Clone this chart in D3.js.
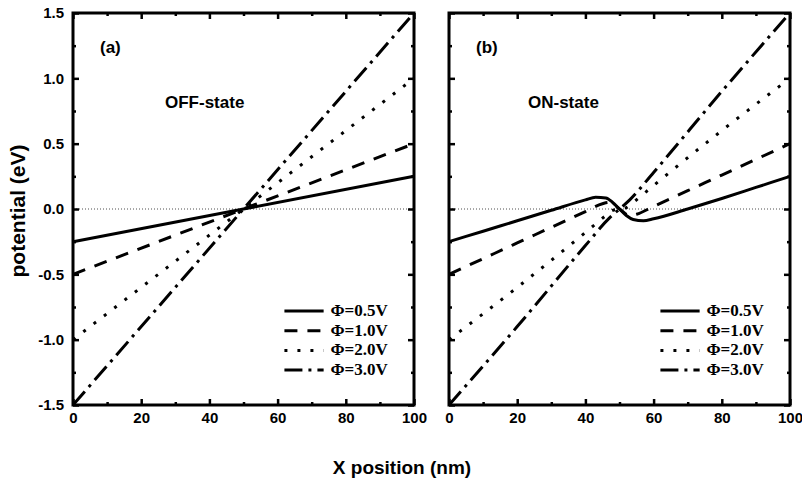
<!DOCTYPE html>
<html>
<head>
<meta charset="utf-8">
<script src="https://cdn.jsdelivr.net/npm/d3@7"></script>
<style>
  body { margin: 0; background: #fff; }
  svg { display: block; }
  .tick text { font-family: Arial, "Liberation Sans", sans-serif; font-weight: bold; font-size: 15px; fill: #000; }
</style>
</head>
<body>
<svg id="grafico" width="802" height="489"></svg>
<script>
// ticks y etiquetas
var xTicks = [0, 20, 40, 60, 80, 100];
var xMinor = [10, 30, 50, 70, 90];
var yTicks = [-1.5, -1.0, -0.5, 0.0, 0.5, 1.0, 1.5];
var yMinor = [-1.25, -0.75, -0.25, 0.25, 0.75, 1.25];
var leyenda = ["\u03A6=0.5V", "\u03A6=1.0V", "\u03A6=2.0V", "\u03A6=3.0V"];

// (a) OFF-state: rectas que cruzan en el centro
var offX = [0, 50, 100];
var off05 = [-0.25, 0, 0.25];
var off10 = [-0.5, 0, 0.5];
var off20 = [-1.0, 0, 1.0];
var off30 = [-1.5, 0, 1.5];

// (b) ON-state: con la ondulacion en el centro
var on05X = [0, 10, 20, 30, 40, 43, 46, 48, 50, 52, 54, 57, 60, 70, 80, 90, 100];
var on05 = [-0.25, -0.17, -0.09, -0.01, 0.07, 0.09, 0.085, 0.05, 0.0, -0.05, -0.08, -0.09, -0.075, 0.0, 0.08, 0.165, 0.25];
var on10X = [0, 10, 20, 30, 40, 45, 47, 50, 53, 55, 60, 70, 80, 90, 100];
var on10 = [-0.5, -0.38, -0.26, -0.14, -0.02, 0.04, 0.05, 0.0, -0.05, -0.04, 0.02, 0.14, 0.26, 0.38, 0.5];
var on20X = [0, 20, 40, 46, 48, 50, 52, 54, 60, 80, 100];
var on20 = [-1.0, -0.6, -0.18, -0.05, -0.01, 0.0, 0.01, 0.05, 0.18, 0.6, 1.0];
var on30X = [0, 20, 40, 47, 50, 53, 60, 80, 100];
var on30 = [-1.5, -0.9, -0.28, -0.07, 0.0, 0.07, 0.28, 0.9, 1.5];

var estilos = [
  { w: 3, dash: null },
  { w: 3, dash: "13,10" },
  { w: 3, dash: "3,10" },
  { w: 3, dash: "18,6,3,6" }
];

var svg = d3.select("#grafico");
var yArriba = 13, yAbajo = 405;
var escalaY = d3.scaleLinear().domain([-1.5, 1.5]).range([yAbajo, yArriba]);

var paneles = [
  { left: 73, right: 414, etiqueta: "(a)", estado: "OFF-state", ejeY: true,
    series: [[offX, off05], [offX, off10], [offX, off20], [offX, off30]], curva: d3.curveLinear },
  { left: 449, right: 790, etiqueta: "(b)", estado: "ON-state", ejeY: false,
    series: [[on05X, on05], [on10X, on10], [on20X, on20], [on30X, on30]], curva: d3.curveMonotoneX }
];

paneles.forEach(function (p) {
  var escalaX = d3.scaleLinear().domain([0, 100]).range([p.left, p.right]);
  var g = svg.append("g");

  // linea punteada del cero
  g.append("line")
    .attr("x1", escalaX(0)).attr("x2", escalaX(100))
    .attr("y1", escalaY(0)).attr("y2", escalaY(0))
    .attr("stroke", "#222").attr("stroke-width", 0.8)
    .attr("stroke-dasharray", "1,2");

  // series
  var linea = d3.line().curve(p.curva)
    .x(function (d) { return escalaX(d[0]); })
    .y(function (d) { return escalaY(d[1]); });
  p.series.forEach(function (s, i) {
    var pts = s[0].map(function (x, j) { return [x, s[1][j]]; });
    g.append("path")
      .attr("d", linea(pts))
      .attr("fill", "none")
      .attr("stroke", "#000")
      .attr("stroke-width", estilos[i].w)
      .attr("stroke-dasharray", estilos[i].dash);
  });

  // ejes con ticks hacia adentro
  function eje(gen, tx, ty, vals, size, labels) {
    var a = gen.tickValues(vals).tickSize(-size).tickPadding(7);
    if (!labels) a.tickFormat("");
    var e = g.append("g").attr("transform", "translate(" + tx + "," + ty + ")").call(a);
    e.select(".domain").remove();
    e.selectAll(".tick line").attr("stroke", "#000").attr("stroke-width", 2.5);
    return e;
  }
  var fmtY = function (d) { return d3.format(".1f")(d).replace("\u2212", "-"); };
  eje(d3.axisBottom(escalaX), 0, yAbajo, xTicks, 6, true);
  eje(d3.axisBottom(escalaX), 0, yAbajo, xMinor, 3, false);
  eje(d3.axisTop(escalaX), 0, yArriba, xTicks, 6, false);
  eje(d3.axisTop(escalaX), 0, yArriba, xMinor, 3, false);
  if (p.ejeY) {
    var ey = eje(d3.axisLeft(escalaY).tickFormat(fmtY), p.left, 0, yTicks, 6, true);
    ey.selectAll(".tick text").attr("x", -9);
  } else {
    eje(d3.axisLeft(escalaY), p.left, 0, yTicks, 6, false);
  }
  eje(d3.axisLeft(escalaY), p.left, 0, yMinor, 3, false);
  eje(d3.axisRight(escalaY), p.right, 0, yTicks, 6, false);
  eje(d3.axisRight(escalaY), p.right, 0, yMinor, 3, false);

  // marco
  g.append("rect")
    .attr("x", p.left).attr("y", yArriba)
    .attr("width", p.right - p.left).attr("height", yAbajo - yArriba)
    .attr("fill", "none").attr("stroke", "#000").attr("stroke-width", 3);

  // textos del panel
  g.append("text")
    .attr("x", p.left + 27).attr("y", 53)
    .style("font-family", "Arial, 'Liberation Sans', sans-serif")
    .style("font-weight", "bold").style("font-size", "17px")
    .text(p.etiqueta);
  g.append("text")
    .attr("x", p.left + (p.ejeY ? 92 : 79)).attr("y", 108)
    .style("font-family", "Arial, 'Liberation Sans', sans-serif")
    .style("font-weight", "bold").style("font-size", "17px")
    .text(p.estado);

  // leyenda
  leyenda.forEach(function (t, i) {
    var yy = 311 + i * 19.7;
    g.append("line")
      .attr("x1", escalaX(62)).attr("x2", escalaX(73.5))
      .attr("y1", yy).attr("y2", yy)
      .attr("stroke", "#000").attr("stroke-width", estilos[i].w)
      .attr("stroke-dasharray", estilos[i].dash);
    g.append("text")
      .attr("x", escalaX(75.5)).attr("y", yy + 5)
      .style("font-family", "'Liberation Serif', 'Times New Roman', serif")
      .style("font-weight", "bold").style("font-size", "17px")
      .text(t);
  });
});

// titulos de los ejes
svg.append("text")
  .attr("transform", "translate(25,211) rotate(-90)")
  .style("text-anchor", "middle")
  .style("font-family", "Arial, 'Liberation Sans', sans-serif")
  .style("font-weight", "bold").style("font-size", "21px")
  .text("potential (eV)");

svg.append("text")
  .attr("x", 402).attr("y", 474)
  .style("text-anchor", "middle")
  .style("font-family", "Arial, 'Liberation Sans', sans-serif")
  .style("font-weight", "bold").style("font-size", "19px")
  .text("X position (nm)");
</script>
</body>
</html>
